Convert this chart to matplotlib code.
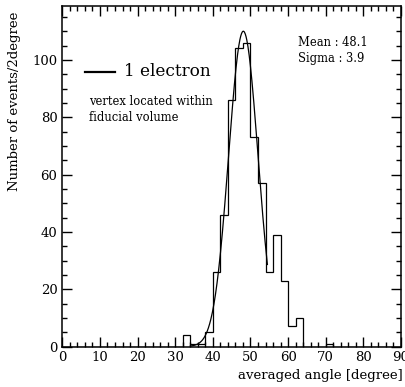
import numpy as np
import matplotlib
matplotlib.use("Agg")
import matplotlib.pyplot as plt
from matplotlib.ticker import MultipleLocator

# ヒストグラム（2度ごと）
bin_lo = [32, 34, 36, 38, 40, 42, 44, 46, 48, 50, 52, 54, 56, 58, 60, 62, 70]
counts = [4, 1, 1, 5, 26, 46, 86, 104, 106, 73, 57, 26, 39, 23, 7, 10, 1]

# ガウスフィットのパラメータ
fit_amp = 110.0
fit_mean = 48.1
fit_sigma = 3.9
fit_range = [34.0, 54.5]

plt.rcParams['font.family'] = ['DejaVu Serif']

W, H = 405, 387

def fx(px):
    return px / W

def fy(py):
    return 1 - py / H

edges = np.arange(0, 92, 2)
h = np.zeros(len(edges) - 1)
for lo, c in zip(bin_lo, counts):
    h[lo // 2] = c

fig = plt.figure(figsize=(4.05, 3.87), dpi=100)
ax = fig.add_axes([fx(62.3), fy(346.5), (401 - 62.3) / W, (346.5 - 6) / H])

ax.stairs(h, edges, color="black", linewidth=0.9, baseline=0)

xf = np.linspace(fit_range[0], fit_range[1], 200)
yf = fit_amp * np.exp(-(xf - fit_mean)**2 / (2 * fit_sigma**2))
ax.plot(xf, yf, color="black", linewidth=0.9)

ax.set_xlim(0, 90)
ax.set_ylim(0, 118.8)
ax.xaxis.set_major_locator(MultipleLocator(10))
ax.xaxis.set_minor_locator(MultipleLocator(2))
ax.yaxis.set_major_locator(MultipleLocator(20))
ax.yaxis.set_minor_locator(MultipleLocator(5))
ax.tick_params(which="both", direction="in", top=True, right=True, labelsize=9.5, width=1)
ax.tick_params(which="major", length=7)
ax.tick_params(which="minor", length=3.5)
for s in ax.spines.values():
    s.set_linewidth(1.1)

# 凡例（図の座標で配置）
fig.add_artist(plt.Line2D([fx(85), fx(115)], [fy(71.5), fy(71.5)],
                          color="black", linewidth=1.6))
fig.text(fx(124), fy(71), "1 electron", fontsize=12.2, va="center", ha="left")
fig.text(fx(89), fy(109.5), "vertex located within\nfiducial volume", fontsize=8.3,
         va="center", ha="left", linespacing=1.25)
fig.text(fx(298), fy(50.5), "Mean : 48.1\nSigma : 3.9", fontsize=8.3,
         va="center", ha="left", linespacing=1.25)

fig.text(fx(403), fy(376), "averaged angle [degree]", fontsize=9.5,
         ha="right", va="center")
fig.text(fx(15), fy(101), "Number of events/2degree", fontsize=9.5,
         rotation=90, ha="center", va="center")

fig.savefig("out.png", dpi=100)
